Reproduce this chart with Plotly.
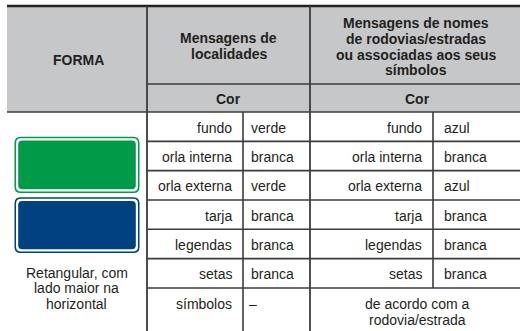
import plotly.graph_objects as go

# ---------------- data ----------------
forma_header = "FORMA"
group_headers = [
    ["Mensagens de", "localidades"],
    ["Mensagens de nomes", "de rodovias/estradas", "ou associadas aos seus", "símbolos"],
]
sub_header = "Cor"
elements = ["fundo", "orla interna", "orla externa", "tarja", "legendas", "setas", "símbolos"]
localidades = ["verde", "branca", "verde", "branca", "branca", "branca", "–"]
rodovias = ["azul", "branca", "azul", "branca", "branca", "branca"]
rodovias_last = ["de acordo com a", "rodovia/estrada"]
forma_text = ["Retangular, com", "lado maior na", "horizontal"]
sign_colors = ["#009a49", "#00417f"]

# ---------------- layout constants ----------------
W, H = 520, 331
X_LEFT, X_C1, X_C1S, X_C2, X_C2S, X_RIGHT = 7, 147, 243, 310, 433, 520
Y_TOP, Y_SUB, Y_HEAD = 6, 84, 112
ROW_H = 29.33
Y_BOTTOM = 331
FONT = "Liberation Sans, Arial, sans-serif"
TXT = "#231f20"
LINE = "#3c3c3c"
GREY = "#c6c7c9"

shapes = []
ann = []


def line(x0, y0, x1, y1, w=1.6, c=LINE):
    shapes.append(dict(type="line", xref="x", yref="y", x0=x0, y0=y0, x1=x1, y1=y1,
                       line=dict(color=c, width=w), layer="above"))


def text(x, y, s, anchor="center", bold=False, size=14):
    ann.append(dict(x=x, y=y, xref="x", yref="y", text=f"<b>{s}</b>" if bold else s,
                    showarrow=False, xanchor=anchor, yanchor="middle",
                    font=dict(family=FONT, size=size, color=TXT)))


def rrect(x0, y0, x1, y1, r, fill):
    p = (f"M {x0+r},{y0} L {x1-r},{y0} Q {x1},{y0} {x1},{y0+r} "
         f"L {x1},{y1-r} Q {x1},{y1} {x1-r},{y1} L {x0+r},{y1} "
         f"Q {x0},{y1} {x0},{y1-r} L {x0},{y0+r} Q {x0},{y0} {x0+r},{y0} Z")
    shapes.append(dict(type="path", xref="x", yref="y", path=p, fillcolor=fill,
                       line=dict(width=0), layer="above"))


# header background
shapes.append(dict(type="rect", xref="x", yref="y", x0=X_LEFT, y0=Y_TOP, x1=X_RIGHT, y1=Y_HEAD,
                   fillcolor=GREY, line=dict(width=0), layer="below"))

# row boundaries
row_tops = [Y_HEAD + i * ROW_H for i in range(len(elements))]
row_bounds = row_tops + [Y_BOTTOM]

# grid lines
line(X_LEFT, Y_TOP, X_RIGHT, Y_TOP, w=2.4, c="#222")
line(X_C1, Y_SUB, X_RIGHT, Y_SUB)
line(X_LEFT, Y_HEAD, X_RIGHT, Y_HEAD)
for yb in row_tops[1:]:
    line(X_C1, yb, X_RIGHT, yb)
line(X_C1, Y_TOP, X_C1, Y_BOTTOM, w=1.8)
line(X_C2, Y_TOP, X_C2, Y_BOTTOM, w=1.8)
line(X_C1S, Y_SUB + 28, X_C1S, Y_BOTTOM)
line(X_C2S, Y_SUB + 28, X_C2S, row_tops[-1])

# header texts
text((X_LEFT + X_C1) / 2 + 1, 60, forma_header, bold=True)
for i, s in enumerate(group_headers[0]):
    text((X_C1 + X_C2) / 2, 38 + i * 15.8, s, bold=True)
for i, s in enumerate(group_headers[1]):
    text((X_C2 + X_RIGHT) / 2 + 1, 23 + i * 15.8, s, bold=True)
text((X_C1 + X_C2) / 2, 99, sub_header, bold=True)
text((X_C2 + X_RIGHT) / 2 + 2, 99, sub_header, bold=True)

# body texts
for i, el in enumerate(elements):
    last = i == len(elements) - 1
    yc = 303.5 if last else (row_bounds[i] + row_bounds[i + 1]) / 2 + 1
    text(X_C1S - 9, yc, el, anchor="right")
    text(X_C1S + 6 if not last else X_C1S + 4, yc, localidades[i], anchor="left")
    if not last:
        text(X_C2S - 9, yc, el, anchor="right")
        text(X_C2S + 9, yc, rodovias[i], anchor="left")
for j, s in enumerate(rodovias_last):
    text((X_C2 + X_RIGHT) / 2 + 2, 303.5 + j * 16, s)

# signs
sign_y = [(136.7, 193), (197.3, 253)]
for (y0, y1), col in zip(sign_y, sign_colors):
    rrect(14.5, y0, 139.5, y1, 6, col)
    rrect(16, y0 + 1.5, 138, y1 - 1.5, 5, "white")
    rrect(18.2, y0 + 3.8, 135.8, y1 - 3.8, 4, col)

for j, s in enumerate(forma_text):
    text(76.5, 272.5 + j * 15.5, s)

fig = go.Figure()
fig.add_trace(go.Scatter(x=[0, W], y=[0, H], mode="markers", marker=dict(opacity=0),
                         hoverinfo="skip", showlegend=False))
fig.update_layout(
    width=W, height=H, margin=dict(l=0, r=0, t=0, b=0),
    paper_bgcolor="white", plot_bgcolor="white",
    xaxis=dict(range=[0, W], visible=False, fixedrange=True),
    yaxis=dict(range=[H, 0], visible=False, fixedrange=True),
    shapes=shapes, annotations=ann, showlegend=False,
)
fig.write_html("out.html", config={"displayModeBar": False},
               post_script="document.body.style.margin='0';document.body.style.overflow='hidden';")
